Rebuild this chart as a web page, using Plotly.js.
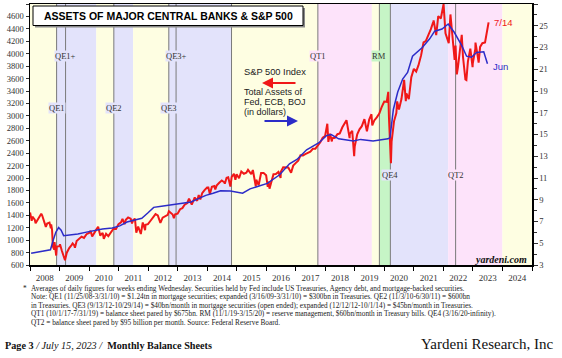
<!DOCTYPE html>
<html><head><meta charset="utf-8">
<script src="https://cdn.plot.ly/plotly-3.0.1.min.js"></script>
<style>html,body{margin:0;padding:0;background:#fff;}#chart{width:562px;height:358px;}</style>
</head><body><div id="chart"></div>
<script>
// ---- S&P 500 index (left axis) ----
const spDates = [
'2008-01-02','2008-01-22','2008-01-31','2008-02-29','2008-03-10','2008-03-31','2008-04-30','2008-05-19','2008-05-30','2008-06-30','2008-07-15','2008-07-31','2008-08-29','2008-09-15','2008-09-19','2008-09-30','2008-10-10','2008-10-27','2008-10-31','2008-11-20','2008-11-28','2008-12-31',
'2009-01-06','2009-01-30','2009-02-27','2009-03-09','2009-03-31','2009-04-30','2009-05-29','2009-06-12','2009-06-30','2009-07-10','2009-07-31','2009-08-31','2009-09-30','2009-10-30','2009-11-30','2009-12-31',
'2010-01-19','2010-02-08','2010-02-26','2010-03-31','2010-04-23','2010-04-30','2010-05-20','2010-05-28','2010-06-18','2010-07-02','2010-07-30','2010-08-27','2010-09-30','2010-10-29','2010-11-30','2010-12-31',
'2011-01-31','2011-02-18','2011-03-16','2011-03-31','2011-04-29','2011-05-31','2011-06-16','2011-06-30','2011-07-22','2011-08-08','2011-08-31','2011-09-22','2011-10-03','2011-10-27','2011-11-25','2011-11-30','2011-12-30',
'2012-01-31','2012-02-29','2012-04-02','2012-04-30','2012-06-01','2012-06-29','2012-07-31','2012-08-31','2012-09-14','2012-10-31','2012-11-15','2012-11-30','2012-12-31',
'2013-01-31','2013-02-28','2013-03-28','2013-04-30','2013-05-21','2013-06-24','2013-07-31','2013-08-30','2013-09-18','2013-10-08','2013-10-31','2013-11-29','2013-12-31',
'2014-01-15','2014-02-03','2014-02-28','2014-03-31','2014-04-11','2014-04-30','2014-05-30','2014-06-30','2014-07-31','2014-08-07','2014-08-29','2014-09-18','2014-10-15','2014-10-31','2014-11-28','2014-12-16','2014-12-31',
'2015-01-30','2015-02-27','2015-03-31','2015-04-30','2015-05-21','2015-06-30','2015-07-20','2015-08-25','2015-08-31','2015-09-29','2015-10-30','2015-11-30','2015-12-31',
'2016-01-20','2016-01-29','2016-02-11','2016-02-29','2016-03-31','2016-04-29','2016-05-31','2016-06-27','2016-06-30','2016-07-29','2016-08-31','2016-09-30','2016-11-04','2016-11-30','2016-12-30',
'2017-01-31','2017-02-28','2017-03-31','2017-04-28','2017-05-31','2017-06-30','2017-07-31','2017-08-31','2017-09-29','2017-10-31','2017-11-30','2017-12-29',
'2018-01-26','2018-02-08','2018-02-28','2018-03-23','2018-03-29','2018-04-30','2018-05-31','2018-06-29','2018-07-31','2018-08-31','2018-09-20','2018-10-29','2018-10-31','2018-11-30','2018-12-24','2018-12-31',
'2019-01-31','2019-02-28','2019-03-29','2019-04-30','2019-05-31','2019-06-28','2019-07-26','2019-08-05','2019-08-30','2019-09-30','2019-10-31','2019-11-29','2019-12-31',
'2020-01-31','2020-02-19','2020-02-28','2020-03-23','2020-03-31','2020-04-30','2020-05-29','2020-06-08','2020-06-30','2020-07-31','2020-09-02','2020-09-23','2020-09-30','2020-10-30','2020-11-30','2020-12-31',
'2021-01-29','2021-02-26','2021-03-31','2021-04-30','2021-05-28','2021-06-30','2021-07-30','2021-08-31','2021-09-02','2021-10-04','2021-10-29','2021-11-30','2021-12-31',
'2022-01-03','2022-01-27','2022-02-23','2022-03-08','2022-03-29','2022-04-29','2022-05-20','2022-05-31','2022-06-16','2022-06-30','2022-07-29','2022-08-16','2022-08-31','2022-09-30','2022-10-12','2022-10-31','2022-11-30','2022-12-28','2022-12-30',
'2023-01-31','2023-02-02','2023-02-28','2023-03-13','2023-03-31','2023-04-28','2023-05-31','2023-06-30','2023-07-14'];
const spValues = [
1447,1310,1378,1330,1273,1322,1385,1426,1400,1280,1214,1267,1283,1192,1255,1166,899,848,969,752,896,903,
935,826,735,677,798,873,919,946,919,879,987,1021,1057,1036,1096,1115,
1150,1057,1104,1169,1217,1187,1071,1089,1117,1022,1102,1065,1141,1183,1181,1258,
1286,1343,1257,1326,1364,1345,1268,1321,1345,1119,1219,1130,1099,1285,1159,1247,1258,
1312,1366,1419,1398,1278,1362,1379,1407,1465,1412,1353,1416,1426,
1498,1515,1569,1598,1669,1573,1686,1633,1725,1656,1757,1806,1848,
1848,1742,1859,1872,1815,1884,1924,1960,1931,1910,2003,2011,1862,2018,2068,1972,2059,
1995,2105,2068,2086,2131,2063,2128,1868,1972,1884,2079,2080,2044,
1859,1940,1829,1932,2060,2065,2097,2001,2099,2174,2171,2168,2085,2199,2239,
2279,2364,2363,2384,2412,2423,2470,2472,2519,2575,2648,2674,
2873,2581,2714,2588,2641,2648,2705,2718,2816,2902,2931,2641,2712,2760,2351,2507,
2704,2784,2834,2946,2752,2942,3026,2845,2926,2977,3038,3141,3231,
3226,3386,2954,2237,2585,2912,3044,3232,3100,3271,3580,3237,3363,3270,3622,3756,
3714,3811,3973,4181,4204,4298,4395,4523,4537,4300,4605,4567,4766,
4797,4327,4225,4171,4632,4132,3901,4132,3667,3785,4130,4305,3955,3586,3577,3872,4080,3783,3840,
4077,4179,3970,3855,4109,4169,4180,4450,4505];

// ---- Total assets of Fed, ECB, BOJ, trillion dollars (right axis) ----
const assetDates = ['2008-01-15','2008-06-15','2008-09-10','2008-10-15','2008-11-15','2008-12-20','2009-01-20','2009-02-20','2009-05-15','2009-08-15','2009-11-15','2010-03-15','2010-06-15','2010-10-15','2011-01-15','2011-04-15','2011-07-15','2011-10-15','2011-12-31','2012-03-10','2012-06-15','2012-09-15','2012-12-15','2013-03-15','2013-06-15','2013-09-15','2013-12-15','2014-03-15','2014-06-15','2014-10-15','2015-01-15','2015-03-15','2015-06-15','2015-09-15','2016-01-15','2016-06-15','2016-10-15','2017-01-15','2017-05-15','2017-10-15','2018-01-15','2018-03-15','2018-06-15','2018-12-15','2019-03-15','2019-08-15','2019-11-15','2020-02-15','2020-03-11','2020-04-22','2020-06-15','2020-08-15','2020-10-15','2020-12-15','2021-04-15','2021-07-15','2021-09-15','2021-12-15','2022-03-01','2022-05-15','2022-08-15','2022-10-15','2022-12-15','2023-02-15','2023-05-15','2023-06-30'];
const assetValues = [4.08,4.25,4.4,5.3,6.0,6.44,6.2,5.7,5.75,5.85,6.0,6.2,6.3,6.4,6.6,6.95,7.1,7.3,7.8,8.3,8.4,8.5,8.65,8.7,8.8,9.1,9.4,9.6,9.83,9.8,9.65,9.6,10.0,10.23,10.5,11.3,12.3,12.7,13.6,14.24,14.9,15.0,14.6,14.4,14.55,14.4,14.5,14.6,14.7,17.3,18.9,20.1,20.7,22.2,23.0,23.8,24.5,24.7,25.16,24.4,23.2,22.2,22.1,22.55,22.6,21.5];

// ---- policy regimes ----
const bandStarts = ['2008-01-01','2008-11-25','2010-03-31','2010-11-03','2011-06-30','2012-09-13','2014-10-29','2017-10-01','2019-07-31','2019-11-01','2020-03-16','2022-03-01','2024-01-01'];
const bandEnds   = ['2008-11-25','2010-03-31','2010-11-03','2011-06-30','2012-09-13','2014-10-29','2017-10-01','2019-07-31','2019-11-01','2020-03-16','2022-03-01','2024-01-01','2025-01-01'];
const bandKinds  = ['Y','L','Y','L','Y','L','Y','P','Y','G','L','P','Y'];
const eventDates  = ['2008-11-25','2009-03-16','2010-11-03','2012-09-13','2012-12-12','2014-10-29','2017-10-01','2019-11-01','2020-03-16','2022-06-01'];
const eventLabels = ['QE1','QE1+','QE2','QE3','QE3+','','QT1','RM','QE4','QT2'];
const eventRows   = ['mid','top','mid','mid','top','','top','top','low','low'];
const eventBg     = ['L','L','L','L','L','Y','P','G','L','P'];

const footnotes = [
 'Averages of daily figures for weeks ending Wednesday. Securities held by Fed include US Treasuries, Agency debt, and mortgage-backed securities.',
 'Note: QE1 (11/25/08-3/31/10) = $1.24tn in mortgage securities; expanded (3/16/09-3/31/10) = $300bn in Treasuries. QE2 (11/3/10-6/30/11) = $600bn',
 'in Treasuries. QE3 (9/13/12-10/29/14) = $40bn/month in mortgage securities (open ended); expanded (12/12/12-10/1/14) = $45bn/month in Treasuries.',
 'QT1 (10/1/17-7/31/19) = balance sheet pared by $675bn. RM (11/1/19-3/15/20) = reserve management, $60bn/month in Treasury bills. QE4 (3/16/20-infinity).',
 'QT2 = balance sheet pared by $95 billion per month. Source: Federal Reserve Board.'];

// ---- styling ----
const COL = {Y:'#fefee2', L:'#e3e3fb', P:'#fde3fa', G:'#c6f5c6'};
const L0=30, R0=532, T0=4, B0=265;
const px = x => (x-L0)/(R0-L0);
const py = y => (B0-y)/(B0-T0);
const serif = 'Liberation Serif, Times New Roman, serif';
const sans = 'Liberation Sans, Arial, sans-serif';
const RED = '#f01818', BLUE = '#2c2cc8';

const shapes = [];
bandStarts.forEach((s,i)=>shapes.push({type:'rect',xref:'x',yref:'paper',x0:s,x1:bandEnds[i],y0:0,y1:1,fillcolor:COL[bandKinds[i]],line:{width:0},layer:'below'}));
eventDates.forEach(d=>shapes.push({type:'line',xref:'x',yref:'paper',x0:d,x1:d,y0:0,y1:1,line:{color:'#7a7a7a',width:1},layer:'below'}));
// title box shadow + box
shapes.push({type:'rect',xref:'paper',yref:'paper',x0:px(35),x1:px(305),y0:py(27.5),y1:py(8),fillcolor:'#8a8a8a',line:{width:0}});
shapes.push({type:'rect',xref:'paper',yref:'paper',x0:px(33),x1:px(303),y0:py(25.5),y1:py(6),fillcolor:'#ffffff',line:{color:'#000',width:1}});

const rowY = {top:56, mid:108, low:175};
const annotations = [];
eventLabels.forEach((t,i)=>{ if(!t) return;
  annotations.push({xref:'x',yref:'paper',x:eventDates[i],y:py(rowY[eventRows[i]]),text:t,showarrow:false,
    font:{family:serif,size:8.5,color:'#333'},bgcolor:COL[eventBg[i]],borderpad:0,xanchor:'center',yanchor:'middle'});
});
annotations.push({xref:'paper',yref:'paper',x:px(168),y:py(16),text:'<b>ASSETS OF MAJOR CENTRAL BANKS &amp; S&amp;P 500</b>',showarrow:false,font:{family:sans,size:10.5,color:'#000'},xanchor:'center',yanchor:'middle'});
annotations.push({xref:'paper',yref:'paper',x:px(243),y:py(72),text:'S&amp;P 500 Index',showarrow:false,font:{family:sans,size:9.3,color:'#222'},xanchor:'left',yanchor:'middle',borderpad:0});
[['Total Assets of',91.5],['Fed, ECB, BOJ',102],['(in dollars)',112.5]].forEach(a=>annotations.push({xref:'paper',yref:'paper',x:px(243),y:py(a[1]),text:a[0],showarrow:false,font:{family:sans,size:9,color:'#222'},xanchor:'left',yanchor:'middle',borderpad:0}));
annotations.push({xref:'paper',yref:'paper',x:px(262),y:py(83),ax:35,ay:0,axref:'pixel',ayref:'pixel',text:'',showarrow:true,arrowhead:2,arrowsize:1,arrowwidth:2.2,arrowcolor:RED});
annotations.push({xref:'paper',yref:'paper',x:px(298),y:py(121),ax:-35,ay:0,axref:'pixel',ayref:'pixel',text:'',showarrow:true,arrowhead:2,arrowsize:1,arrowwidth:2.2,arrowcolor:BLUE});
annotations.push({xref:'paper',yref:'paper',x:px(492),y:py(23),text:'7/14',showarrow:false,font:{family:sans,size:9.5,color:RED},xanchor:'left',yanchor:'middle'});
annotations.push({xref:'paper',yref:'paper',x:px(491),y:py(66),text:'Jun',showarrow:false,font:{family:sans,size:9.5,color:BLUE},xanchor:'left',yanchor:'middle'});
annotations.push({xref:'paper',yref:'paper',x:px(529),y:py(259),text:'<b><i>yardeni.com</i></b>',showarrow:false,font:{family:serif,size:10,color:'#111'},xanchor:'right',yanchor:'middle'});
// footnotes
annotations.push({xref:'paper',yref:'paper',x:px(22),y:py(288),text:'*',showarrow:false,font:{family:serif,size:7.3,color:'#222'},xanchor:'left',yanchor:'middle',borderpad:0});
footnotes.forEach((t,i)=>annotations.push({xref:'paper',yref:'paper',x:px(30),y:py(288+i*8.6),text:t,showarrow:false,font:{family:serif,size:7.3,color:'#222'},xanchor:'left',yanchor:'middle',borderpad:0}));
annotations.push({xref:'paper',yref:'paper',x:px(3),y:py(345),text:'<b>Page 3</b><i> / July 15, 2023 / </i><b> Monthly Balance Sheets</b>',showarrow:false,font:{family:serif,size:10.2,color:'#111'},xanchor:'left',yanchor:'middle'});
annotations.push({xref:'paper',yref:'paper',x:px(556),y:py(344),text:'Yardeni Research, Inc',showarrow:false,font:{family:serif,size:15,color:'#111'},xanchor:'right',yanchor:'middle'});

const traces = [
 {x:assetDates,y:assetValues,yaxis:'y2',type:'scatter',mode:'lines',line:{color:BLUE,width:1.5},hoverinfo:'skip'},
 {x:spDates,y:spValues,type:'scatter',mode:'lines',line:{color:RED,width:2},hoverinfo:'skip'}
];

const layout = {
  width:562,height:358,margin:{l:30,r:30,t:4,b:93},
  paper_bgcolor:'#fff',plot_bgcolor:'#fff',showlegend:false,
  xaxis:{type:'date',range:['2008-01-01','2025-01-01'],dtick:'M12',tick0:'2008-01-01',tickformat:'%Y',ticklabelmode:'period',
    ticks:'outside',ticklen:4,tickcolor:'#000',showgrid:false,zeroline:false,showline:true,linecolor:'#000',linewidth:1.5,mirror:true,
    tickfont:{family:serif,size:9,color:'#333'}},
  yaxis:{range:[600,4800],dtick:200,tick0:600,ticks:'outside',ticklen:3,tickcolor:'#333',showgrid:false,zeroline:false,showline:true,linecolor:'#000',linewidth:1.5,
    tickfont:{family:serif,size:8.5,color:'#333'}},
  yaxis2:{overlaying:'y',side:'right',range:[3,27],tick0:3,dtick:2,ticks:'outside',ticklen:4,tickcolor:'#333',showgrid:false,zeroline:false,showline:true,linecolor:'#000',linewidth:1.5,
    minor:{dtick:1,ticks:'outside',ticklen:3,tickcolor:'#333',showgrid:false},
    tickfont:{family:serif,size:8.5,color:'#333'}},
  shapes:shapes,annotations:annotations
};
Plotly.newPlot('chart',traces,layout,{staticPlot:true,displayModeBar:false});
</script></body></html>
